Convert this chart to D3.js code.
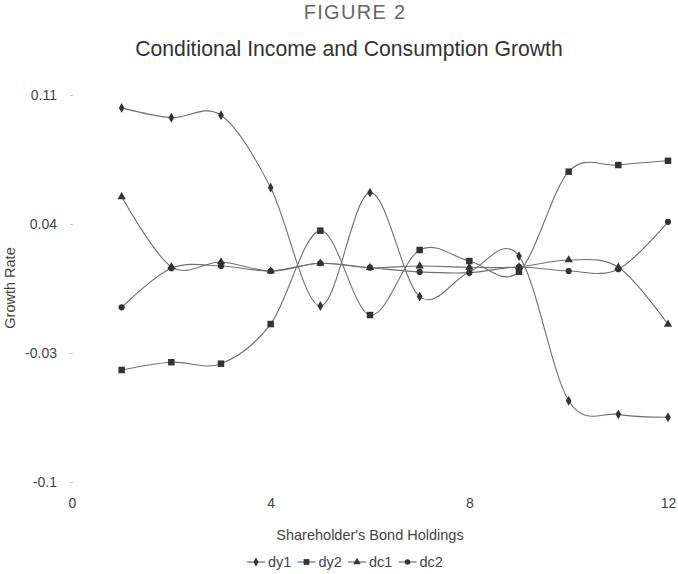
<!DOCTYPE html>
<html>
<head>
<meta charset="utf-8">
<script src="https://cdn.jsdelivr.net/npm/d3@7"></script>
<style>
  body { margin: 0; background: #fff; }
  text { font-family: "Liberation Sans", Arial, sans-serif; }
</style>
</head>
<body>
<svg id="chart" width="678" height="574"></svg>
<script>
// data
const holdings = [1, 2, 3, 4, 5, 6, 7, 8, 9, 10, 11, 12];
const dy1 = [0.103, 0.0977, 0.099, 0.0597, -0.0045, 0.057, 0.0006, 0.014, 0.0226, -0.0559, -0.0633, -0.0649];
const dy2 = [-0.0392, -0.035, -0.0358, -0.0143, 0.0364, -0.0094, 0.0259, 0.0199, 0.0141, 0.0684, 0.072, 0.0743];
const dc1 = [0.0548, 0.0168, 0.0194, 0.0145, 0.0187, 0.0163, 0.0172, 0.0165, 0.0167, 0.0205, 0.0165, -0.0144];
const dc2 = [-0.0052, 0.016, 0.0172, 0.0145, 0.0187, 0.0163, 0.014, 0.0136, 0.0167, 0.0145, 0.0155, 0.0412];
const xTicks = [0, 4, 8, 12];
const yTicks = [0.11, 0.04, -0.03, -0.1];

const series = [
  { name: "dy1", values: dy1, symbol: d3.symbolDiamond, size: 28 },
  { name: "dy2", values: dy2, symbol: d3.symbolSquare, size: 42 },
  { name: "dc1", values: dc1, symbol: d3.symbolTriangle, size: 30 },
  { name: "dc2", values: dc2, symbol: d3.symbolCircle, size: 30 }
];

const svg = d3.select("#chart");

const x = d3.scaleLinear().domain([0, 12]).range([72, 668]);
const y = d3.scaleLinear().domain([-0.1, 0.11]).range([482, 95]);

// titles
svg.append("text")
  .attr("x", 355).attr("y", 19)
  .attr("text-anchor", "middle")
  .style("font-size", "20px").style("fill", "#666")
  .style("letter-spacing", "1.3px")
  .text("FIGURE 2");

svg.append("text")
  .attr("x", 349).attr("y", 56)
  .attr("text-anchor", "middle")
  .style("font-size", "21.2px").style("fill", "#333")
  .text("Conditional Income and Consumption Growth");

// y axis: labels with faint tick marks, no domain line
const yAxis = svg.append("g")
  .attr("transform", "translate(73,0)")
  .call(d3.axisLeft(y).tickValues(yTicks).tickSize(3).tickPadding(13).tickFormat(d => String(d)));
yAxis.select(".domain").remove();
yAxis.selectAll(".tick line").attr("stroke", "#ccc");
yAxis.selectAll(".tick text")
  .style("font-size", "14px").style("fill", "#444")
  .style("font-family", "'Liberation Sans', Arial, sans-serif");

// x axis: labels only
const xAxis = svg.append("g")
  .attr("transform", "translate(0,492)")
  .call(d3.axisBottom(x).tickValues(xTicks).tickSize(0).tickPadding(6));
xAxis.select(".domain").remove();
xAxis.selectAll(".tick text")
  .style("font-size", "14px").style("fill", "#444")
  .style("font-family", "'Liberation Sans', Arial, sans-serif");

// axis titles
svg.append("text")
  .attr("transform", "translate(15,288) rotate(-90)")
  .attr("text-anchor", "middle")
  .style("font-size", "14.5px").style("fill", "#444")
  .text("Growth Rate");

svg.append("text")
  .attr("x", 370).attr("y", 540)
  .attr("text-anchor", "middle")
  .style("font-size", "14.5px").style("fill", "#444")
  .text("Shareholder's Bond Holdings");

// lines
const line = d3.line()
  .x((d, i) => x(holdings[i]))
  .y(d => y(d))
  .curve(d3.curveCatmullRom.alpha(0));

series.forEach(s => {
  svg.append("path")
    .datum(s.values)
    .attr("fill", "none")
    .attr("stroke", "#707070")
    .attr("stroke-width", 1.1)
    .attr("d", line);
});

series.forEach(s => {
  svg.append("g")
    .selectAll("path")
    .data(s.values)
    .join("path")
    .attr("transform", (d, i) => `translate(${x(holdings[i])},${y(d)})`)
    .attr("d", d3.symbol().type(s.symbol).size(s.size))
    .attr("fill", "#333");
});

// legend
const legend = svg.append("g").attr("transform", "translate(247,562)");
let lx = 0;
series.forEach(s => {
  const g = legend.append("g").attr("transform", `translate(${lx},0)`);
  g.append("line")
    .attr("x1", 0).attr("x2", 18).attr("y1", 0).attr("y2", 0)
    .attr("stroke", "#555").attr("stroke-width", 1);
  g.append("path")
    .attr("transform", "translate(9,0)")
    .attr("d", d3.symbol().type(s.symbol).size(s.size * 0.8))
    .attr("fill", "#333");
  g.append("text")
    .attr("x", 21).attr("y", 5)
    .style("font-size", "14.5px").style("fill", "#444")
    .text(s.name);
  lx += 50.5;
});
</script>
</body>
</html>
